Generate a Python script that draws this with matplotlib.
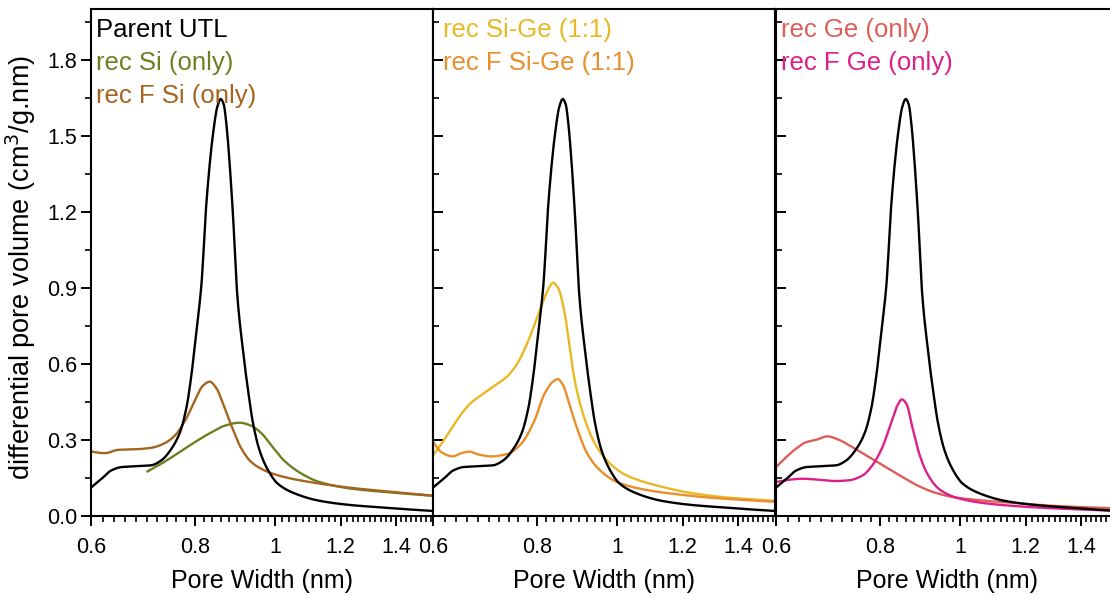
"""Pore size distributions of parent UTL and the recovered samples (three panels)."""

import matplotlib

matplotlib.use("Agg")
import matplotlib.pyplot as plt
import numpy as np
from matplotlib.ticker import FixedLocator, NullFormatter

plt.rcParams["font.family"] = ["Liberation Sans", "DejaVu Sans"]

# Parent UTL (black, shown in every panel)
parent_x = [0.600, 0.618, 0.635, 0.653, 0.678, 0.709, 0.729, 0.750, 0.768, 0.782,
            0.792, 0.803, 0.815, 0.827, 0.842, 0.852, 0.860, 0.867, 0.874, 0.882,
            0.890, 0.900, 0.915, 0.928, 0.941, 0.958, 0.981, 1.007, 1.056, 1.131,
            1.235, 1.354, 1.432, 1.549]
parent_y = [0.112, 0.147, 0.180, 0.193, 0.196, 0.200, 0.219, 0.265, 0.330, 0.428,
            0.545, 0.715, 0.910, 1.247, 1.510, 1.615, 1.645, 1.625, 1.540, 1.380,
            1.180, 0.880, 0.650, 0.493, 0.363, 0.258, 0.180, 0.128, 0.089, 0.060,
            0.043, 0.033, 0.027, 0.020]

# rec Si (only)
si_x = [0.702, 0.729, 0.764, 0.800, 0.838, 0.869, 0.906, 0.936, 0.963, 0.990,
        1.025, 1.076, 1.131, 1.235, 1.354, 1.549]
si_y = [0.176, 0.206, 0.248, 0.291, 0.330, 0.356, 0.368, 0.356, 0.326, 0.278,
        0.219, 0.167, 0.134, 0.108, 0.095, 0.080]

# rec F Si (only)
fsi_x = [0.600, 0.6055, 0.624, 0.647, 0.678, 0.709, 0.736, 0.757, 0.779, 0.800,
         0.818, 0.834, 0.849, 0.869, 0.891, 0.911, 0.936, 0.971, 1.025, 1.131,
         1.235, 1.354, 1.549]
fsi_y = [0.255, 0.252, 0.248, 0.261, 0.263, 0.269, 0.287, 0.317, 0.376, 0.454,
         0.513, 0.530, 0.506, 0.428, 0.336, 0.265, 0.213, 0.180, 0.154, 0.128,
         0.111, 0.098, 0.080]

# rec Si-Ge (1:1)
sige_x = [0.600, 0.614, 0.631, 0.649, 0.667, 0.686, 0.711, 0.738, 0.759, 0.781,
          0.803, 0.822, 0.837, 0.849, 0.864, 0.876, 0.888, 0.905, 0.925, 0.946,
          0.981, 1.027, 1.133, 1.238, 1.357, 1.549]
sige_y = [0.239, 0.284, 0.343, 0.402, 0.447, 0.477, 0.513, 0.552, 0.604, 0.689,
          0.793, 0.878, 0.920, 0.900, 0.806, 0.676, 0.545, 0.428, 0.336, 0.271,
          0.206, 0.160, 0.115, 0.089, 0.073, 0.060]

# rec F Si-Ge (1:1)
fsige_x = [0.600, 0.614, 0.634, 0.649, 0.664, 0.680, 0.705, 0.738, 0.766, 0.795,
           0.817, 0.837, 0.848, 0.860, 0.876, 0.897, 0.921, 0.954, 1.000, 1.079,
           1.186, 1.300, 1.549]
fsige_y = [0.293, 0.252, 0.235, 0.248, 0.254, 0.243, 0.235, 0.245, 0.284, 0.376,
           0.480, 0.530, 0.540, 0.519, 0.441, 0.336, 0.245, 0.180, 0.134, 0.104,
           0.085, 0.072, 0.056]

# rec Ge (only)
ge_x = [0.600, 0.617, 0.634, 0.652, 0.670, 0.692, 0.715, 0.742, 0.777, 0.814,
        0.852, 0.893, 0.935, 0.988, 1.074, 1.180, 1.294, 1.549]
ge_y = [0.193, 0.232, 0.265, 0.291, 0.300, 0.314, 0.300, 0.271, 0.232, 0.193,
        0.154, 0.117, 0.091, 0.073, 0.060, 0.050, 0.040, 0.030]

# rec F Ge (only)
fge_x = [0.600, 0.622, 0.645, 0.677, 0.708, 0.735, 0.763, 0.784, 0.806, 0.825,
         0.841, 0.851, 0.862, 0.876, 0.893, 0.913, 0.942, 0.988, 1.074, 1.233,
         1.549]
fge_y = [0.134, 0.143, 0.147, 0.143, 0.138, 0.141, 0.160, 0.200, 0.271, 0.363,
         0.438, 0.460, 0.441, 0.350, 0.245, 0.167, 0.108, 0.073, 0.050, 0.034,
         0.020]

x_major = [0.6, 0.8, 1.0, 1.2, 1.4]
x_major_labels = ["0.6", "0.8", "1", "1.2", "1.4"]
y_major = [0.0, 0.3, 0.6, 0.9, 1.2, 1.5, 1.8]

panels = [
    [("Parent UTL", parent_x, parent_y, "black"),
     ("rec Si (only)", si_x, si_y, "#6e7f22"),
     ("rec F Si (only)", fsi_x, fsi_y, "#a5651f")],
    [("rec Si-Ge (1:1)", sige_x, sige_y, "#e9b824"),
     ("rec F Si-Ge (1:1)", fsige_x, fsige_y, "#e88f2c")],
    [("rec Ge (only)", ge_x, ge_y, "#dc5e58"),
     ("rec F Ge (only)", fge_x, fge_y, "#dd1f8a")],
]


def smooth(x, y):
    """Dense curve through the read points (monotone cubic in log x)."""
    lx = np.log(x)
    y = np.asarray(y)
    grid = np.linspace(lx[0], lx[-1], 500)
    h = np.diff(lx)
    d = np.diff(y) / h
    m = np.zeros(len(y))
    m[0], m[-1] = d[0], d[-1]
    for i in range(1, len(y) - 1):
        if d[i - 1] * d[i] <= 0:
            m[i] = 0.0
        else:
            w1 = 2 * h[i] + h[i - 1]
            w2 = h[i] + 2 * h[i - 1]
            m[i] = (w1 + w2) / (w1 / d[i - 1] + w2 / d[i])
    idx = np.clip(np.searchsorted(lx, grid) - 1, 0, len(lx) - 2)
    t = (grid - lx[idx]) / h[idx]
    h00 = 2 * t**3 - 3 * t**2 + 1
    h10 = t**3 - 2 * t**2 + t
    h01 = -2 * t**3 + 3 * t**2
    h11 = t**3 - t**2
    yy = h00 * y[idx] + h10 * h[idx] * m[idx] + h01 * y[idx + 1] + h11 * h[idx] * m[idx + 1]
    return np.exp(grid), yy


fig = plt.figure(figsize=(11.1, 5.95), dpi=100)
lefts = [91 / 1110, 433 / 1110, 776 / 1110]
width = 342 / 1110
bottom = 79 / 595
height = 507 / 595
x_minor = [v for v in np.round(np.arange(0.62, 1.55, 0.02), 2) if v not in x_major]
y_minor = list(np.arange(0.15, 2.0, 0.3))

for i, series in enumerate(panels):
    ax = fig.add_axes([lefts[i], bottom, width, height])
    ax.set_xscale("log")
    if i > 0:
        px, py = smooth(parent_x, parent_y)
        ax.plot(px, py, color="black", lw=1.7, zorder=3)
    for j, (label, xs, ys, color) in enumerate(series):
        sx, sy = smooth(xs, ys)
        ax.plot(sx, sy, color=color, lw=1.7, zorder=3 if color == "black" else 2)
        ax.text(0.016 if i != 1 else 0.03, 0.958 - 0.065 * j, label, color=color,
                fontsize=18.5, va="center", ha="left", transform=ax.transAxes)

    ax.set_xlim(0.6, 1.55)
    ax.set_ylim(0, 2.0)
    ax.xaxis.set_major_locator(FixedLocator(x_major))
    ax.xaxis.set_minor_locator(FixedLocator(x_minor))
    ax.xaxis.set_minor_formatter(NullFormatter())
    ax.set_xticklabels(x_major_labels)
    ax.yaxis.set_major_locator(FixedLocator(y_major))
    ax.yaxis.set_minor_locator(FixedLocator(y_minor))
    ax.tick_params(axis="x", which="major", direction="out", length=7, width=1.4,
                   labelsize=15.5, pad=8)
    ax.tick_params(axis="x", which="minor", direction="out", length=4, width=1.2)
    ydir = "out" if i == 0 else "in"
    ax.tick_params(axis="y", which="major", direction=ydir, length=7, width=1.4,
                   labelsize=15.5, labelleft=(i == 0), pad=3)
    ax.tick_params(axis="y", which="minor", direction=ydir, length=4, width=1.2)
    if i == 0:
        ax.set_yticklabels([f"{v:.1f}" for v in y_major])
        ax.set_ylabel("differential pore volume (cm$^3$/g.nm)", fontsize=19.5)
        ax.yaxis.set_label_coords(-0.155, 0.49)
    ax.set_xlabel("Pore Width (nm)", fontsize=18, labelpad=8)
    for spine in ax.spines.values():
        spine.set_linewidth(1.5)

fig.savefig("out.png", dpi=100)
